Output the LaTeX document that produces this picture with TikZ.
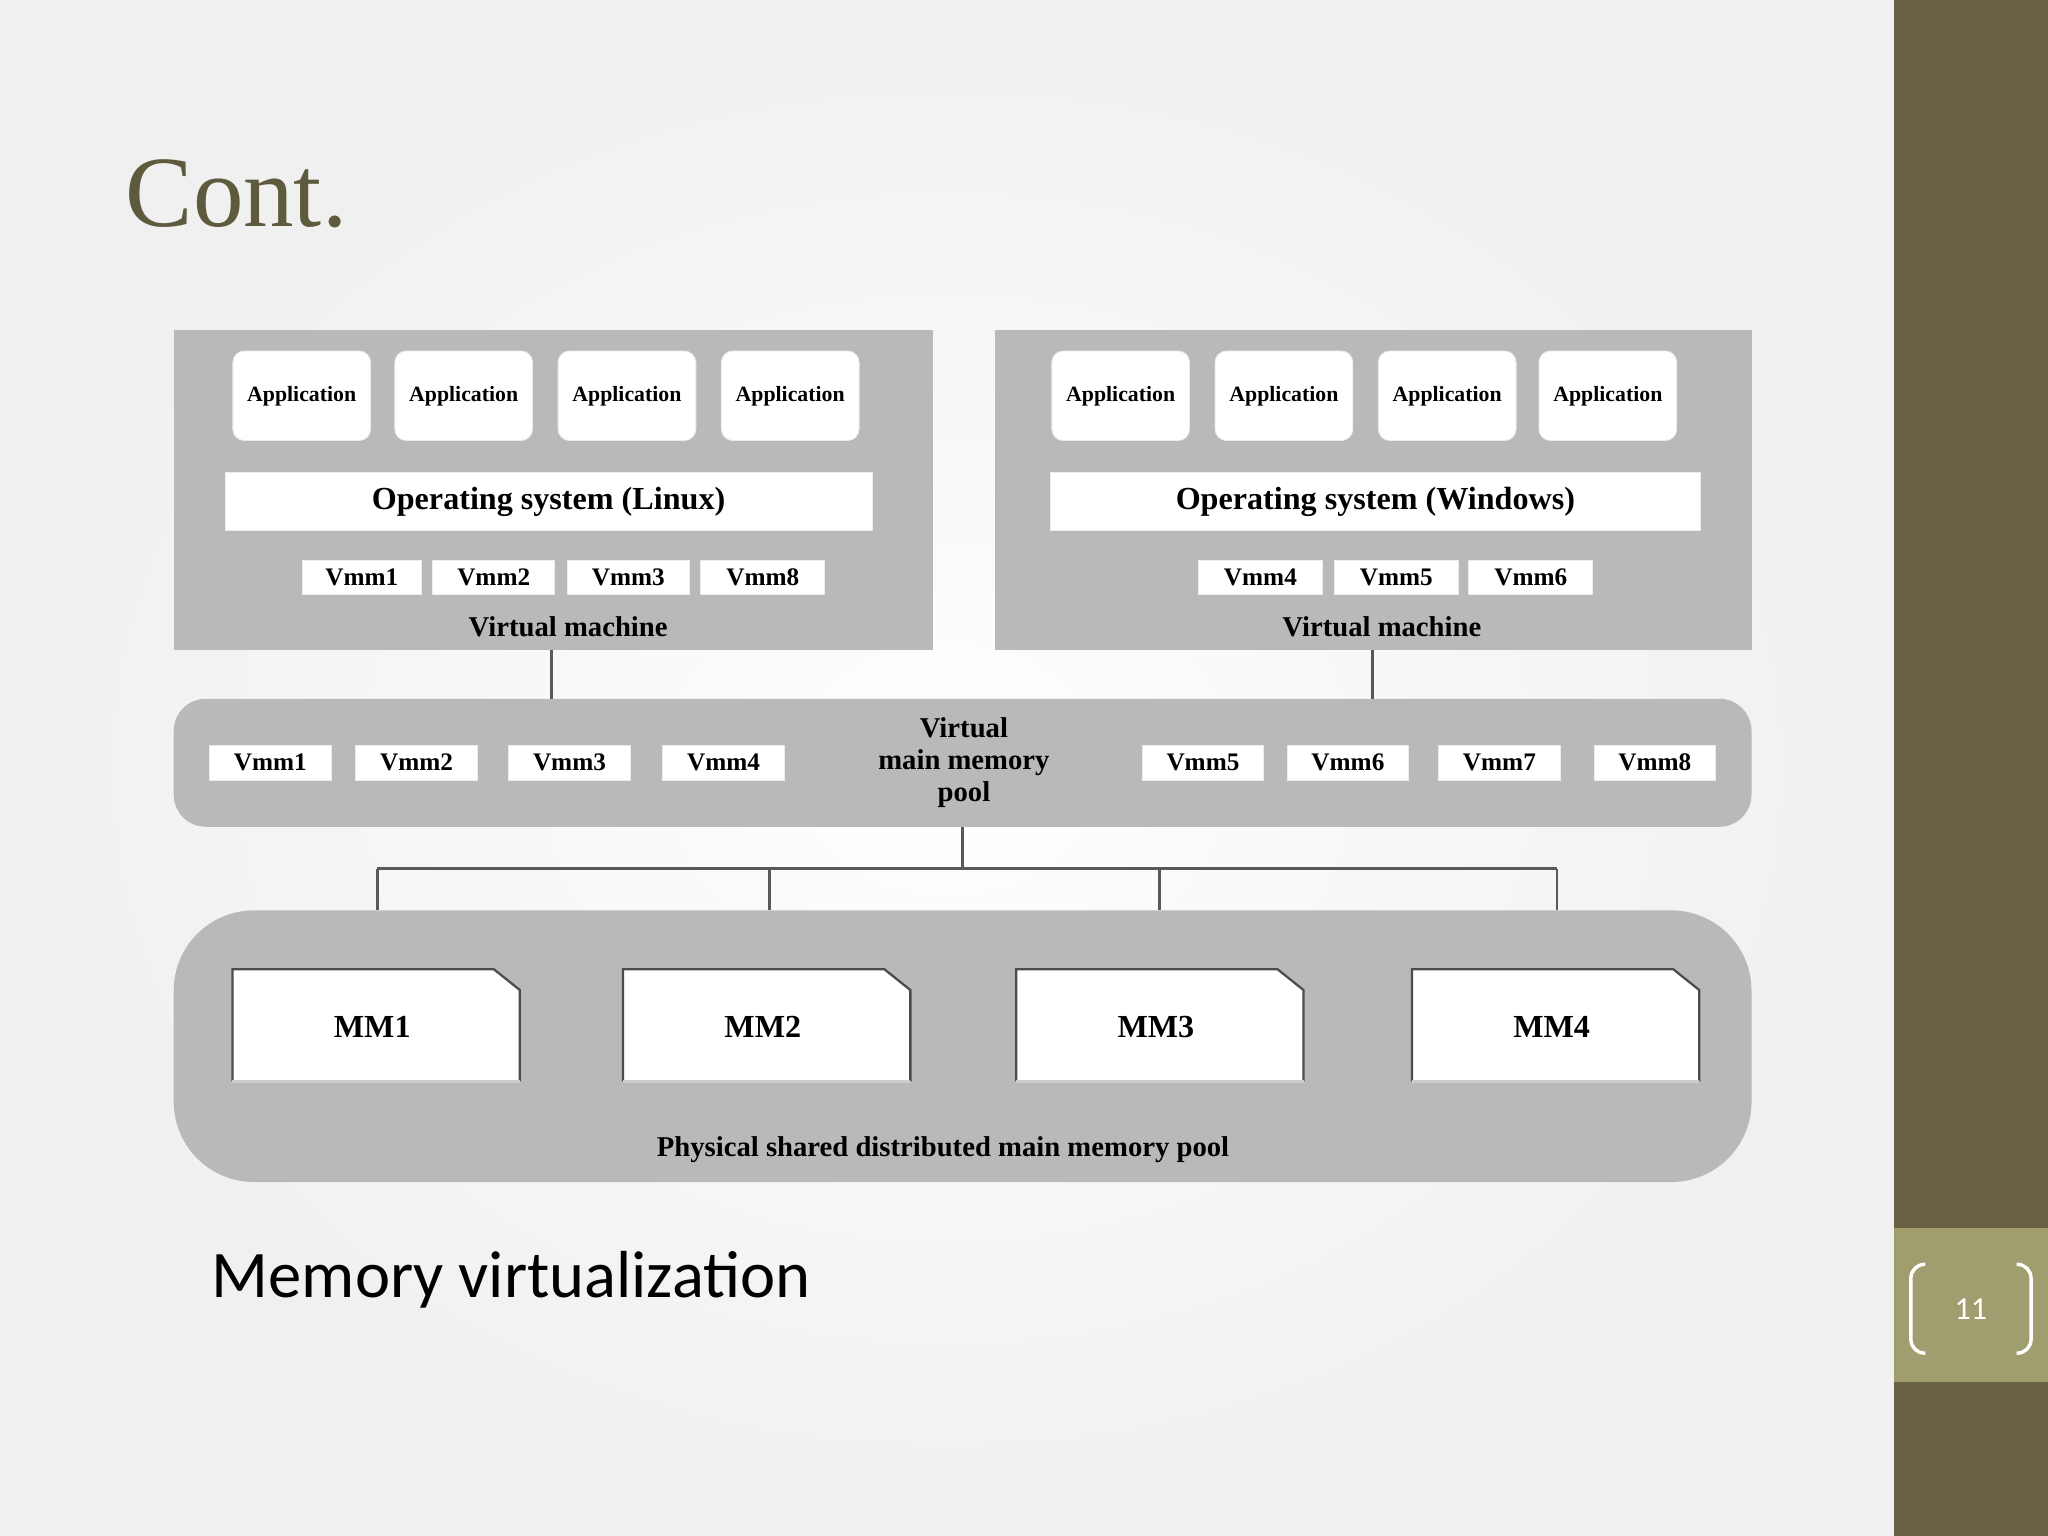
\documentclass[tikz,border=0pt]{standalone}
\usepackage{fontspec}
\setmainfont{Liberation Serif}
\newfontfamily\capfont{Carlito}
\definecolor{bar}{HTML}{6A6044}
\definecolor{barl}{HTML}{A09D6E}
\definecolor{ttl}{HTML}{5E5A3E}
\begin{document}
\begin{tikzpicture}[x=0.02cm,y=-0.02cm,
  wbox/.style={draw=white!85!gray,fill=white,inner sep=0pt},
  app/.style={wbox,rounded corners=5pt,font=\bfseries\fontsize{9.5}{10}\selectfont,minimum width=60pt,minimum height=39pt},
  vmm/.style={wbox,font=\bfseries\fontsize{11}{12}\selectfont,minimum height=15pt},
  lbl/.style={font=\bfseries\fontsize{12.5}{14}\selectfont},
  ln/.style={draw=gray!70!black,line width=1.2pt}]
\useasboundingbox (0,0) rectangle (1568,1176);
\shade[inner color=white,outer color=gray!12] (0,0) rectangle (1450,1176);
\fill[bar] (1450,0) rectangle (1568,1176);
\fill[barl] (1450,940) rectangle (1568,1058);
\draw[white,line width=1.5pt,rounded corners=6pt] (1474,968) -- (1463,968) -- (1463,1036) -- (1474,1036);
\draw[white,line width=1.5pt,rounded corners=6pt] (1544,968) -- (1555,968) -- (1555,1036) -- (1544,1036);
\node[white,font=\capfont\fontsize{14}{16}\selectfont] (pg) at (1509,1002) {11};
\node[anchor=west,text=ttl,font=\fontsize{44}{46}\selectfont] (title) at (90,148) {Cont.};
\node[anchor=west,font=\capfont\fontsize{29}{32}\selectfont] (cap) at (156,980) {Memory virtualization};
% VM left
\fill[gray!55] (133,253) rectangle (714,498);
\foreach \x/\n in {231/a1,355/a2,480/a3,605/a4}{\node[app] (\n) at (\x,303) {Application};}
\node[wbox,minimum width=282pt,minimum height=25pt,font=\bfseries\fontsize{14}{16}\selectfont] (os1) at (420,384) {Operating system (Linux)};
\foreach \x/\w/\t in {277/52/Vmm1,378/53/Vmm2,481/53/Vmm3,584/54/Vmm8}{\node[vmm,minimum width=\w pt] at (\x,442) {\t};}
\node[lbl] (vm1) at (435,480) {Virtual machine};
% VM right
\fill[gray!55] (762,253) rectangle (1341,498);
\foreach \x/\n in {858/b1,983/b2,1108/b3,1231/b4}{\node[app] (\n) at (\x,303) {Application};}
\node[wbox,minimum width=283pt,minimum height=25pt,font=\bfseries\fontsize{14}{16}\selectfont] (os2) at (1053,384) {Operating system (Windows)};
\foreach \x/\t in {965/Vmm4,1069/Vmm5,1172/Vmm6}{\node[vmm,minimum width=54pt] at (\x,442) {\t};}
\node[lbl] (vm2) at (1058,480) {Virtual machine};
% pool
\fill[gray!55,rounded corners=14pt] (133,535) rectangle (1341,633);
\foreach \x/\t in {207/Vmm1,319/Vmm2,436/Vmm3,554/Vmm4,921/Vmm5,1032/Vmm6,1148/Vmm7,1267/Vmm8}{\node[vmm,minimum width=53pt] at (\x,584) {\t};}
\node[lbl,align=center] (pool) at (738,584) {Virtual\\main memory\\pool};
\coordinate (v1) at (422,498); \coordinate (p1) at (422,535);
\coordinate (v2) at (1051,498); \coordinate (p2) at (1051,535);
\draw[ln] (v1) -- (p1); \draw[ln] (v2) -- (p2);
\coordinate (t0) at (737,633); \coordinate (t1) at (737,665);
\draw[ln] (t0) -- (t1) (289,665) -- (1192,665);
\foreach \x in {289,589,888,1192}{\draw[ln] (\x,665) -- (\x,697);}
% physical
\fill[gray!55,rounded corners=35pt] (133,697) rectangle (1341,905);
\foreach \x/\t in {178/MM1,477/MM2,778/MM3,1081/MM4}{
  \fill[white] (\x,742) -- (\x+200,742) -- (\x+220,758) -- (\x+220,828) -- (\x,828) -- cycle;
  \draw[gray!60!black,line width=1pt] (\x,828) -- (\x,742) -- (\x+200,742) -- (\x+220,758) -- (\x+220,828);
  \draw[gray!40,line width=1pt] (\x,828) -- (\x+220,828);
  \node[font=\bfseries\fontsize{14}{16}\selectfont] at (\x+107,786) {\t};}
\node[lbl] (phys) at (722,880) {Physical shared distributed main memory pool};
\end{tikzpicture}
\end{document}
